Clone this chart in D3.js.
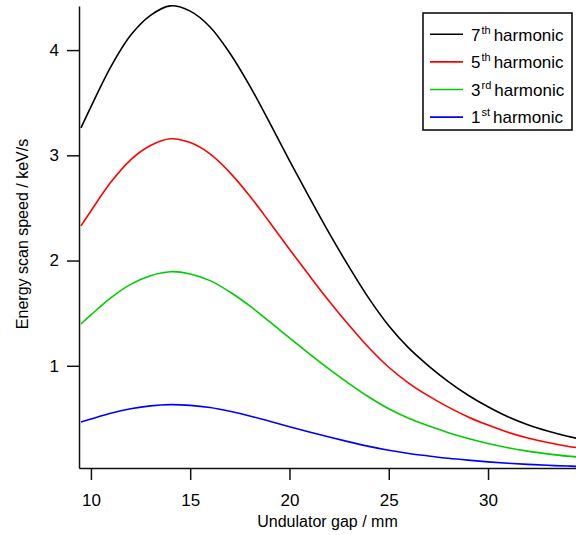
<!DOCTYPE html>
<html>
<head>
<meta charset="utf-8">
<script src="https://cdn.jsdelivr.net/npm/d3@7"></script>
<style>
  body { margin: 0; background: #fff; }
  svg text { font-family: "Liberation Sans", Arial, sans-serif; fill: #000; }
</style>
</head>
<body>
<div id="chart"></div>
<script>
// Undulator gap (mm)
const gap = [9.5, 10, 11, 12, 13, 14, 15, 16, 17, 18, 19, 20, 21, 22, 23, 24, 25, 26, 27, 28, 29, 30, 31, 32, 33, 34, 34.5];

// Energy scan speed (keV/s) for each harmonic
const harm7 = [3.26, 3.46, 3.84, 4.14, 4.33, 4.42, 4.37, 4.22, 3.97, 3.66, 3.31, 2.95, 2.60, 2.26, 1.94, 1.64, 1.38, 1.17, 1.00, 0.85, 0.72, 0.61, 0.515, 0.44, 0.38, 0.33, 0.31];
const harm5 = [2.329, 2.471, 2.743, 2.957, 3.093, 3.157, 3.121, 3.014, 2.836, 2.614, 2.364, 2.107, 1.857, 1.614, 1.386, 1.171, 0.986, 0.836, 0.714, 0.607, 0.514, 0.436, 0.368, 0.314, 0.271, 0.236, 0.221];
const harm3 = [1.397, 1.483, 1.646, 1.774, 1.856, 1.894, 1.873, 1.809, 1.701, 1.569, 1.419, 1.264, 1.114, 0.969, 0.831, 0.703, 0.591, 0.501, 0.429, 0.364, 0.309, 0.261, 0.221, 0.189, 0.163, 0.141, 0.133];
const harm1 = [0.466, 0.494, 0.549, 0.591, 0.619, 0.631, 0.624, 0.603, 0.567, 0.523, 0.473, 0.421, 0.371, 0.323, 0.277, 0.234, 0.197, 0.167, 0.143, 0.121, 0.103, 0.087, 0.074, 0.063, 0.054, 0.047, 0.044];

const xTicks = [10, 15, 20, 25, 30];
const yTicks = [1, 2, 3, 4];

// legend order, top to bottom
const series = [
  { num: '7', sup: 'th', values: harm7, color: '#000000' },
  { num: '5', sup: 'th', values: harm5, color: '#ff0000' },
  { num: '3', sup: 'rd', values: harm3, color: '#00cc00' },
  { num: '1', sup: 'st', values: harm1, color: '#0000ff' }
];

const width = 576;
const height = 535;
const margin = { top: 6, right: 0, bottom: 67, left: 79 };

const svg = d3.select('#chart')
  .append('svg')
    .attr('width', width)
    .attr('height', height);

const x = d3.scaleLinear()
  .domain([9.4, 34.43])
  .range([margin.left, width - margin.right]);

const y = d3.scaleLinear()
  .domain([0.0285, 4.419])
  .range([height - margin.bottom, margin.top]);

svg.append('clipPath')
    .attr('id', 'plot-clip')
  .append('rect')
    .attr('x', margin.left)
    .attr('y', 0)
    .attr('width', width - margin.left)
    .attr('height', height - margin.bottom);

// curves
const line = d3.line()
  .x((d, i) => x(gap[i]))
  .y(d => y(d))
  .curve(d3.curveCatmullRom.alpha(0.5));

svg.append('g')
    .attr('clip-path', 'url(#plot-clip)')
  .selectAll('path')
  .data(series.slice().reverse())
  .join('path')
    .attr('d', d => line(d.values))
    .attr('fill', 'none')
    .attr('stroke', d => d.color)
    .attr('stroke-width', 1.6);

// axes
const xAxis = svg.append('g')
  .attr('transform', `translate(0,${height - margin.bottom})`)
  .call(d3.axisBottom(x).tickValues(xTicks).tickFormat(d3.format('d'))
    .tickSize(12).tickPadding(14).tickSizeOuter(0));

const yAxis = svg.append('g')
  .attr('transform', `translate(${margin.left},0)`)
  .call(d3.axisLeft(y).tickValues(yTicks).tickFormat(d3.format('d'))
    .tickSize(12).tickPadding(8).tickSizeOuter(0));

[xAxis, yAxis].forEach(g => {
  g.select('.domain').attr('stroke', '#111').attr('stroke-width', 1.5);
  g.selectAll('.tick line').attr('stroke', '#111').attr('stroke-width', 1.5);
  g.selectAll('.tick text')
    .attr('fill', '#000')
    .style('font-size', '17px')
    .style('font-family', '"Liberation Sans", Arial, sans-serif');
});

// axis titles
svg.append('text')
    .attr('x', (margin.left + width) / 2)
    .attr('y', 527)
    .attr('text-anchor', 'middle')
    .style('font-size', '16px')
    .text('Undulator gap / mm');

svg.append('text')
    .attr('transform', 'translate(28,234) rotate(-90)')
    .attr('text-anchor', 'middle')
    .style('font-size', '16px')
    .text('Energy scan speed / keV/s');

// legend
const legend = svg.append('g');
legend.append('rect')
    .attr('x', 423)
    .attr('y', 13)
    .attr('width', 149)
    .attr('height', 117)
    .attr('fill', '#fff')
    .attr('stroke', '#000')
    .attr('stroke-width', 1.5);

const rowY = i => 34.3 + i * 27.6;

legend.selectAll('line')
  .data(series)
  .join('line')
    .attr('x1', 430)
    .attr('x2', 463)
    .attr('y1', (d, i) => rowY(i))
    .attr('y2', (d, i) => rowY(i))
    .attr('stroke', d => d.color)
    .attr('stroke-width', 1.6);

const labels = legend.selectAll('text.leg')
  .data(series)
  .join('text')
    .attr('class', 'leg')
    .attr('x', 471)
    .attr('y', (d, i) => rowY(i) + 6.3)
    .style('font-size', '17px');

labels.append('tspan').text(d => d.num);
labels.append('tspan')
    .attr('dy', -7)
    .attr('dx', 1)
    .style('font-size', '11px')
    .text(d => d.sup);
labels.append('tspan')
    .attr('dy', 7)
    .attr('dx', 3)
    .text('harmonic');
</script>
</body>
</html>
